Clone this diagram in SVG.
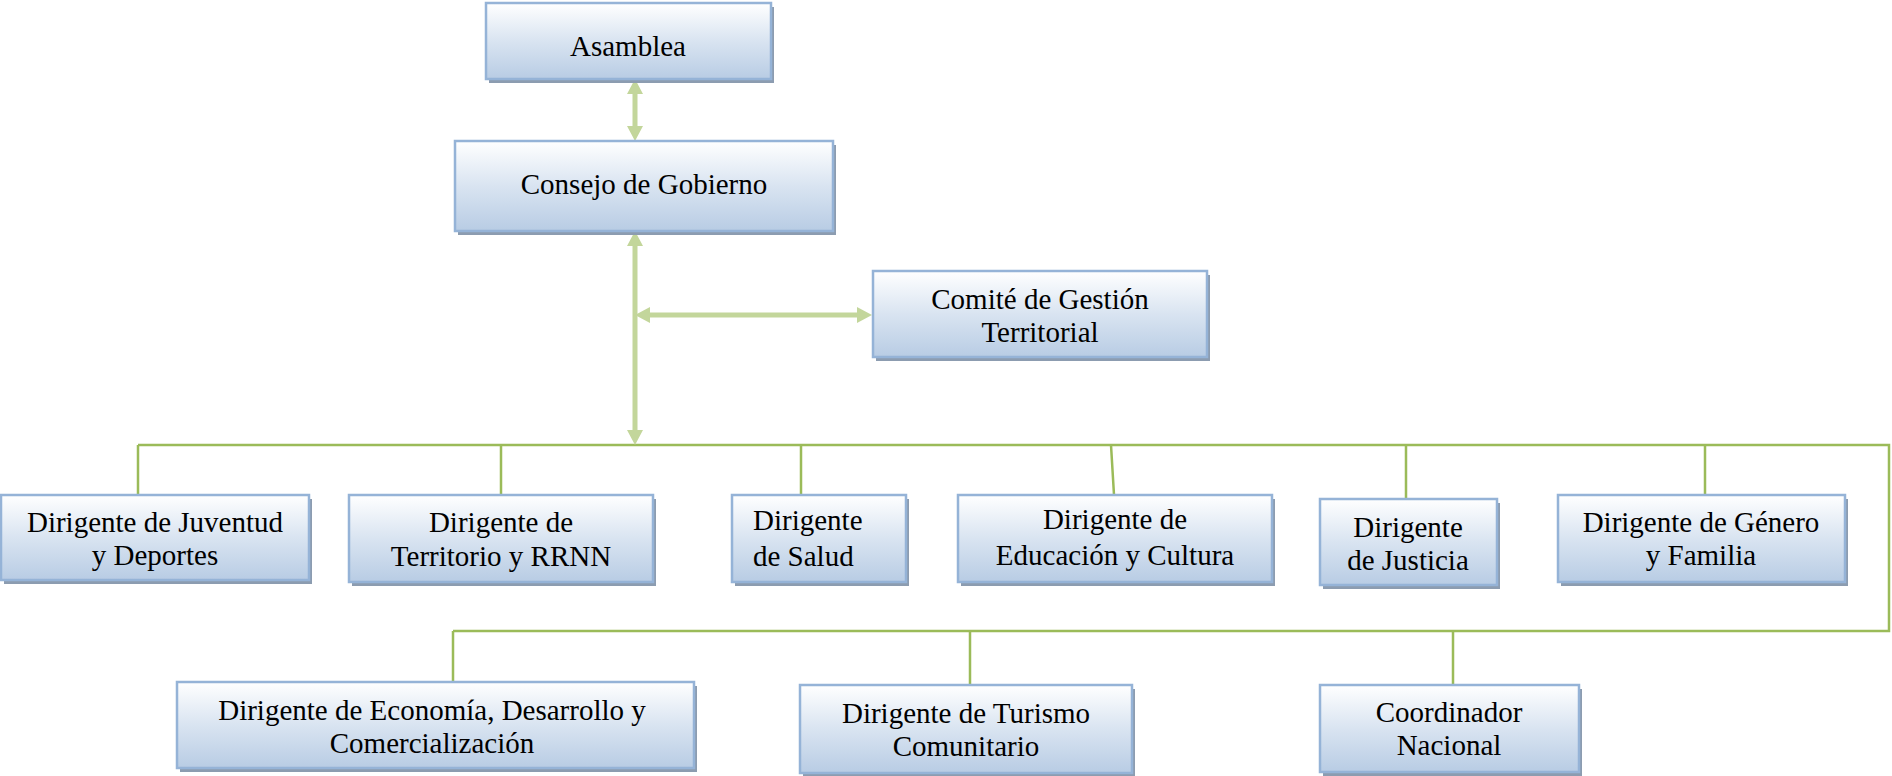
<svg xmlns="http://www.w3.org/2000/svg" width="1892" height="776" viewBox="0 0 1892 776">
<style>
.box{fill:url(#g);stroke:#95b3d7;stroke-width:2.5}
.sh{fill:#8c9cb0}
.t{font-family:"Liberation Serif","Times New Roman",serif;font-size:29px;fill:#000;text-anchor:middle}
.bus{fill:none;stroke:#9bbb59;stroke-width:2.5}
.arr{fill:none;stroke:#c3d69b;stroke-width:5}
.head{fill:#c3d69b}
</style>
<defs>
<linearGradient id="g" x1="0" y1="0" x2="0" y2="1">
<stop offset="0" stop-color="#ffffff"/>
<stop offset="0.5" stop-color="#d9e4f1"/>
<stop offset="1" stop-color="#b8cce4"/>
</linearGradient>
</defs>
<g id="connectors">
<path class="bus" d="M138 445 H1889 V631 H453"/>
<path class="bus" d="M138 445 V495 M501 445 V495 M801 445 V495 M1111 445 L1114 495 M1406 445 V499 M1705 445 V495 M453 631 V682 M970 631 V685 M1453 631 V685"/>
<path class="arr" d="M635 92 V128 M635 244 V432 M648 315 H859"/>
<path class="head" d="M635 79 L627 94 L643 94 Z M635 141 L627 126 L643 126 Z M635 231 L627 246 L643 246 Z M635 445 L627 430 L643 430 Z M635 315 L650 307 L650 323 Z M872 315 L857 307 L857 323 Z"/>
</g>
<g id="asamblea"><rect class="sh" x="489" y="7" width="285" height="76"/><rect class="box" x="486" y="3" width="285" height="76"/><text class="t" x="628" y="56">Asamblea</text></g>
<g id="consejo"><rect class="sh" x="458" y="145" width="378" height="90"/><rect class="box" x="455" y="141" width="378" height="90"/><text class="t" x="644" y="194">Consejo de Gobierno</text></g>
<g id="comite"><rect class="sh" x="876" y="275" width="334" height="86"/><rect class="box" x="873" y="271" width="334" height="86"/><text class="t" x="1040" y="309">Comité de Gestión</text><text class="t" x="1040" y="342">Territorial</text></g>
<g id="juventud"><rect class="sh" x="4" y="499" width="308" height="85"/><rect class="box" x="1" y="495" width="308" height="85"/><text class="t" x="155" y="532">Dirigente de Juventud</text><text class="t" x="155" y="565">y Deportes</text></g>
<g id="territorio"><rect class="sh" x="352" y="499" width="304" height="87"/><rect class="box" x="349" y="495" width="304" height="87"/><text class="t" x="501" y="532">Dirigente de</text><text class="t" x="501" y="566">Territorio y RRNN</text></g>
<g id="salud"><rect class="sh" x="735" y="499" width="174" height="87"/><rect class="box" x="732" y="495" width="174" height="87"/><text class="t" x="753" y="530" text-anchor="start" style="text-anchor:start">Dirigente</text><text class="t" x="753" y="566" style="text-anchor:start">de Salud</text></g>
<g id="educacion"><rect class="sh" x="961" y="499" width="314" height="87"/><rect class="box" x="958" y="495" width="314" height="87"/><text class="t" x="1115" y="529">Dirigente de</text><text class="t" x="1115" y="565">Educación y Cultura</text></g>
<g id="justicia"><rect class="sh" x="1323" y="503" width="177" height="86"/><rect class="box" x="1320" y="499" width="177" height="86"/><text class="t" x="1408" y="537">Dirigente</text><text class="t" x="1408" y="570">de Justicia</text></g>
<g id="genero"><rect class="sh" x="1561" y="499" width="287" height="87"/><rect class="box" x="1558" y="495" width="287" height="87"/><text class="t" x="1701" y="532">Dirigente de Género</text><text class="t" x="1701" y="565">y Familia</text></g>
<g id="economia"><rect class="sh" x="180" y="686" width="517" height="86"/><rect class="box" x="177" y="682" width="517" height="86"/><text class="t" x="432" y="720">Dirigente de Economía, Desarrollo y</text><text class="t" x="432" y="753">Comercialización</text></g>
<g id="turismo"><rect class="sh" x="803" y="689" width="332" height="88"/><rect class="box" x="800" y="685" width="332" height="88"/><text class="t" x="966" y="723">Dirigente de Turismo</text><text class="t" x="966" y="756">Comunitario</text></g>
<g id="coordinador"><rect class="sh" x="1323" y="689" width="259" height="87"/><rect class="box" x="1320" y="685" width="259" height="87"/><text class="t" x="1449" y="722">Coordinador</text><text class="t" x="1449" y="755">Nacional</text></g>
</svg>
